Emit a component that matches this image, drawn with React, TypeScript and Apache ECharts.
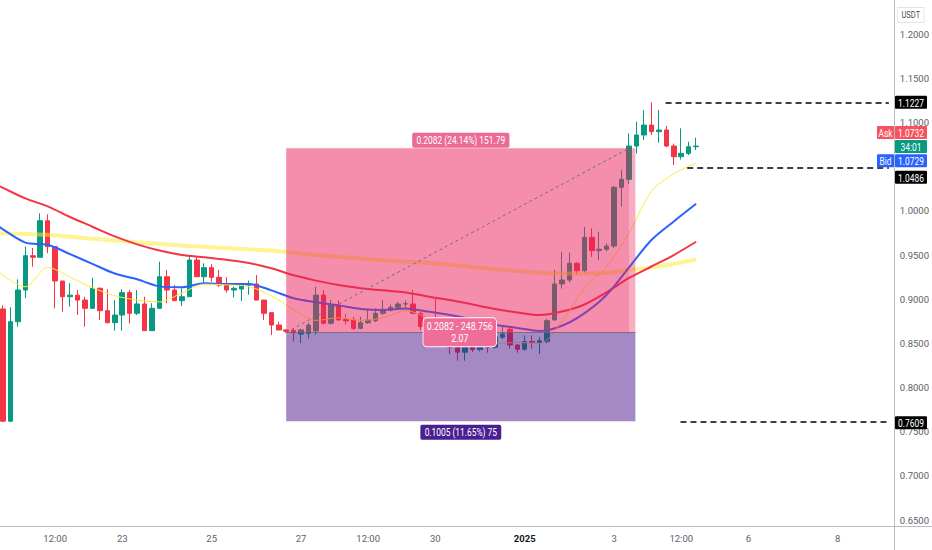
import React, { useEffect, useRef } from 'react';
import * as echarts from 'echarts';

// ---- Candles (4H), index 0 = Dec 20 08:00, index 16 = Dec 23 00:00 ----
const opens = [
  0.889, 0.762, 0.8745, 0.9104, 0.9492, 0.9474, 0.9888, 0.9594, 0.9206, 0.9028,
  0.9046, 0.899, 0.8897, 0.9123, 0.887, 0.8734, 0.8821, 0.9074, 0.884, 0.8946,
  0.8644, 0.8897, 0.9254, 0.9104, 0.8983, 0.9028, 0.9443, 0.9254, 0.9357, 0.9247,
  0.916, 0.9104, 0.9115, 0.916, 0.9172, 0.899, 0.8848, 0.8708, 0.8652, 0.8645,
  0.8606, 0.8614, 0.864, 0.9047, 0.8727, 0.8934, 0.8772, 0.8765, 0.867, 0.8734,
  0.8757, 0.884, 0.8878, 0.8908, 0.8946, 0.8946, 0.884, 0.8689, 0.859, 0.855,
  0.85, 0.8456, 0.84, 0.8456, 0.843, 0.8482, 0.8456, 0.8569, 0.866, 0.8482,
  0.8433, 0.852, 0.851, 0.852, 0.8765, 0.9172, 0.9217, 0.9406, 0.9323, 0.97,
  0.955, 0.9565, 0.9602, 1.0266, 1.0356, 1.0733, 1.0858, 1.097, 1.0895, 1.0914,
  1.0733, 1.0612, 1.065, 1.0725,
];
const closes = [
  0.762, 0.8745, 0.9104, 0.9492, 0.9474, 0.9888, 0.9594, 0.9206, 0.9028, 0.9046,
  0.899, 0.8897, 0.9123, 0.887, 0.8734, 0.8821, 0.9074, 0.884, 0.8946, 0.8644,
  0.8897, 0.9254, 0.9104, 0.8983, 0.9028, 0.9443, 0.9254, 0.9357, 0.9247, 0.916,
  0.9104, 0.9123, 0.916, 0.9165, 0.899, 0.884, 0.8708, 0.8652, 0.8637, 0.862,
  0.8652, 0.8708, 0.9047, 0.8727, 0.8934, 0.8765, 0.8754, 0.867, 0.8734, 0.8765,
  0.884, 0.8886, 0.8908, 0.8946, 0.8948, 0.884, 0.8689, 0.859, 0.855, 0.85,
  0.8456, 0.84, 0.8456, 0.843, 0.847, 0.8456, 0.8576, 0.8606, 0.8482, 0.8433,
  0.852, 0.8512, 0.853, 0.8757, 0.9172, 0.9217, 0.9406, 0.9323, 0.97, 0.955,
  0.9565, 0.9602, 1.0266, 1.0356, 1.0733, 1.0858, 1.097, 1.0895, 1.0914, 1.0733,
  1.0612, 1.065, 1.0725, 1.0732,
];
const lows = [
  0.7609, 0.7609, 0.869, 0.901, 0.9368, 0.9474, 0.952, 0.8897, 0.8859, 0.8915,
  0.8821, 0.8689, 0.8897, 0.8765, 0.8727, 0.8644, 0.8644, 0.8727, 0.882, 0.8644,
  0.8644, 0.8897, 0.8954, 0.8983, 0.8923, 0.9028, 0.9254, 0.918, 0.92, 0.914,
  0.9075, 0.902, 0.898, 0.905, 0.899, 0.8765, 0.8595, 0.8652, 0.862, 0.852,
  0.8505, 0.8557, 0.86, 0.8714, 0.8714, 0.876, 0.8714, 0.865, 0.866, 0.872,
  0.874, 0.882, 0.886, 0.889, 0.89, 0.883, 0.865, 0.856, 0.852, 0.846,
  0.838, 0.8304, 0.8304, 0.84, 0.841, 0.8395, 0.844, 0.855, 0.844, 0.8395,
  0.842, 0.844, 0.838, 0.85, 0.876, 0.912, 0.919, 0.928, 0.93, 0.948,
  0.9443, 0.954, 0.958, 1.0046, 1.03, 1.065, 1.08, 1.0858, 1.077, 1.072,
  1.0518, 1.058, 1.063, 1.0688,
];
const highs = [
  0.893, 0.891, 0.9225, 0.9594, 0.958, 0.9972, 0.996, 0.9594, 0.9206, 0.918,
  0.9104, 0.9028, 0.9243, 0.9134, 0.9112, 0.8991, 0.9112, 0.9104, 0.9104, 0.9028,
  0.8954, 0.9424, 0.933, 0.916, 0.9123, 0.9489, 0.9481, 0.9406, 0.9395, 0.933,
  0.925, 0.9142, 0.918, 0.921, 0.9274, 0.899, 0.8848, 0.8745, 0.866, 0.867,
  0.8665, 0.8734, 0.9142, 0.9104, 0.899, 0.899, 0.883, 0.88, 0.88, 0.8878,
  0.8897, 0.899, 0.894, 0.897, 0.8985, 0.9104, 0.886, 0.872, 0.9, 0.862,
  0.856, 0.849, 0.848, 0.851, 0.852, 0.851, 0.872, 0.8689, 0.87, 0.849,
  0.859, 0.859, 0.857, 0.878, 0.933, 0.9537, 0.9526, 0.942, 0.982, 0.9802,
  0.9764, 0.963, 1.028, 1.0462, 1.0876, 1.1008, 1.114, 1.1227, 1.114, 1.096,
  1.076, 1.0933, 1.0782, 1.0827,
];

// ---- Moving averages, read at candle indexes ----
const maIdx = [-1, 0, 3, 6, 9, 12, 15, 18, 21, 24, 27, 30, 33, 36, 39, 42, 45, 48, 51, 54, 57, 60, 63, 66, 69, 72, 75, 78, 81, 84, 87, 90, 93];
const maRed = [1.03, 1.026, 1.014, 1.005, 0.993, 0.982, 0.971, 0.962, 0.955, 0.95, 0.9475, 0.9446, 0.941, 0.935, 0.927, 0.921, 0.916, 0.9125, 0.91, 0.9077, 0.903, 0.899, 0.894, 0.889, 0.885, 0.882, 0.886, 0.894, 0.908, 0.924, 0.937, 0.95, 0.965];
const maBlue = [0.985, 0.979, 0.964, 0.9615, 0.951, 0.94, 0.929, 0.9225, 0.9145, 0.9135, 0.918, 0.9172, 0.9172, 0.91, 0.901, 0.8965, 0.893, 0.889, 0.8878, 0.8895, 0.886, 0.882, 0.877, 0.871, 0.8675, 0.864, 0.87, 0.884, 0.905, 0.936, 0.967, 0.988, 1.008];
const maFast = [0.936, 0.927, 0.914, 0.936, 0.925, 0.913, 0.904, 0.899, 0.897, 0.907, 0.917, 0.9162, 0.9142, 0.904, 0.888, 0.876, 0.879, 0.876, 0.879, 0.887, 0.879, 0.865, 0.853, 0.85, 0.851, 0.85, 0.875, 0.912, 0.937, 0.975, 1.022, 1.042, 1.054];
const maSlow = [0.9748, 0.9745, 0.9737, 0.9728, 0.9707, 0.9685, 0.9665, 0.9645, 0.9626, 0.9607, 0.9592, 0.9578, 0.9564, 0.955, 0.9525, 0.95, 0.948, 0.946, 0.944, 0.9425, 0.941, 0.939, 0.9365, 0.934, 0.932, 0.93, 0.929, 0.929, 0.93, 0.933, 0.936, 0.94, 0.945];

// ---- Axes ----
const xTickIdx = [7, 16, 28, 40, 49, 58, 70, 82, 91, 100, 112];
const xTickLabels = ['12:00', '23', '25', '27', '12:00', '30', '2025', '3', '12:00', '6', '8'];
const yTickValues = [0.65, 0.7, 0.75, 0.8, 0.85, 0.9, 0.95, 1.0, 1.1, 1.15, 1.2];
const X_MIN = -0.4;
const X_MAX = 119.52;
const Y_MIN = 0.6434;
const Y_MAX = 1.2385;

// ---- Long position tool ----
const posStartIdx = 38;
const posHitIdx = 84;
const posEndIdx = 84.85;
const posEntry = 0.8625;
const posTarget = 1.0707;
const posStop = 0.762;
const posTargetAmount = '151.79';
const posQty = '248.756';
const posStopAmount = '75';

// ---- Horizontal lines ----
const hLinePrices = [1.1227, 1.0486, 0.7609];
const hLineStartIdx = [88.9, 91.8, 90.9];

// ---- Price-scale tags ----
const tagPrices = [1.1227, 1.0732, 1.0732, 1.0729, 1.0486, 0.7609];
const tagTexts = ['1.1227', '1.0732', '34:01', '1.0729', '1.0486', '0.7609'];
const tagPrefixes = ['', 'Ask', '', 'Bid', '', ''];
const tagColors = ['#000000', '#f7525f', '#089981', '#2962ff', '#000000', '#000000'];
const tagShiftY = [0, -13.5, 0.5, 14.5, 9.5, 0.5];

const UP = '#089981';
const DOWN = '#f23645';
const FONT = '"Liberation Sans Narrow", "Arial Narrow", Roboto, sans-serif';
const AXIS_TEXT = '#5d606b';
const SEP = '#b8bbc2';
const NARROW = 0.84;

function buildOption() {
  const candleData = opens.map((o, i) => [i, o, closes[i], lows[i], highs[i]]);
  const toLine = (vals: number[]) => maIdx.map((x, k) => [x, vals[k]]);
  const lineEnd = X_MAX - 5 / 7.48;

  const hLines = hLinePrices.map((p, k) => [
    { coord: [hLineStartIdx[k], p], lineStyle: { color: '#000000', width: 1.5, type: [6, 4] } },
    { coord: [lineEnd, p] },
  ]);

  return {
    animation: false,
    backgroundColor: '#ffffff',
    grid: { left: 0, right: 35, top: 0, bottom: 24 },
    xAxis: {
      type: 'value',
      min: X_MIN,
      max: X_MAX,
      axisLine: { show: false },
      axisTick: { show: false },
      splitLine: { show: false },
      axisLabel: {
        customValues: xTickIdx,
        color: AXIS_TEXT,
        fontSize: 9.5,
        fontFamily: FONT,
        margin: 7,
        formatter: (v: number) => {
          const k = xTickIdx.findIndex((t) => Math.abs(t - v) < 1e-6);
          if (k < 0) return '';
          const s = xTickLabels[k];
          return s === '2025' ? '{b|' + s + '}' : s;
        },
        rich: {
          b: { fontWeight: 'bold', fontSize: 9.5, fontFamily: FONT, color: '#131722' },
        },
      },
    },
    yAxis: {
      type: 'value',
      position: 'right',
      min: Y_MIN,
      max: Y_MAX,
      axisLine: { show: false },
      axisTick: { show: false },
      splitLine: { show: false },
      axisLabel: {
        customValues: yTickValues,
        color: AXIS_TEXT,
        fontSize: 9.5,
        fontFamily: FONT,
        margin: 6,
        formatter: (v: number) => v.toFixed(4),
      },
    },
    series: [
      {
        type: 'candlestick',
        data: candleData,
        barWidth: 5,
        z: 2,
        itemStyle: { color: UP, color0: DOWN, borderColor: UP, borderColor0: DOWN, borderWidth: 1 },
        markArea: {
          z: 5,
          silent: true,
          label: { show: false },
          data: [
            [{ coord: [posStartIdx, posEntry], itemStyle: { color: 'rgba(233,30,90,0.5)' } }, { coord: [posHitIdx, posTarget] }],
            [{ coord: [posHitIdx, posEntry], itemStyle: { color: 'rgba(233,30,90,0.36)' } }, { coord: [posEndIdx, posTarget] }],
            [{ coord: [posStartIdx, posStop], itemStyle: { color: 'rgba(75,20,140,0.5)' } }, { coord: [posEndIdx, posEntry] }],
          ],
        },
        markLine: {
          z: 6,
          silent: true,
          symbol: ['none', 'none'],
          label: { show: false },
          data: [
            [{ coord: [posStartIdx, posEntry], lineStyle: { color: 'rgba(110,100,115,0.8)', width: 1, type: 'solid' } }, { coord: [posEndIdx, posEntry] }],
            [{ coord: [posStartIdx, posEntry], lineStyle: { color: '#707078', width: 1, type: [3, 3] } }, { coord: [posHitIdx, posTarget] }],
            ...hLines,
          ],
        },
      },
      { type: 'line', data: toLine(maSlow), symbol: 'none', smooth: 0.3, z: 3, silent: true, lineStyle: { color: 'rgba(255,235,59,0.55)', width: 4 } },
      { type: 'line', data: toLine(maRed), symbol: 'none', smooth: 0.3, z: 3, silent: true, lineStyle: { color: '#f23645', width: 2 } },
      { type: 'line', data: toLine(maBlue), symbol: 'none', smooth: 0.3, z: 3, silent: true, lineStyle: { color: '#2962ff', width: 2 } },
      { type: 'line', data: toLine(maFast), symbol: 'none', smooth: 0.3, z: 3, silent: true, lineStyle: { color: '#ffeb3b', width: 1 } },
    ],
  };
}

function buildGraphics(chart: any) {
  const px = (x: number, y: number) => chart.convertToPixel({ gridIndex: 0 }, [x, y]) as number[];
  const W = chart.getWidth();
  const H = chart.getHeight();
  const [axisX, axisY] = px(X_MAX, Y_MIN);
  const els: any[] = [];
  const font = (s: number, w = 'normal') => `${w} ${s}px ${FONT}`;

  els.push({ type: 'line', z: 50, silent: true, shape: { x1: 0, y1: Math.round(axisY) + 0.5, x2: W, y2: Math.round(axisY) + 0.5 }, style: { stroke: SEP, lineWidth: 1 } });
  els.push({ type: 'line', z: 50, silent: true, shape: { x1: Math.round(axisX) + 0.5, y1: 0, x2: Math.round(axisX) + 0.5, y2: H }, style: { stroke: SEP, lineWidth: 1 } });

  // unit label
  els.push({
    type: 'text', z: 60, silent: true, x: axisX + 17, y: 15, scaleX: NARROW,
    style: { text: 'USDT', fill: '#4d4f57', font: font(9), align: 'center', verticalAlign: 'middle', backgroundColor: '#ffffff', borderColor: '#e0e3eb', borderWidth: 1, padding: [3, 4, 2, 4] },
  });

  // price tags
  tagPrices.forEach((p, k) => {
    const cy = px(X_MAX, p)[1] + tagShiftY[k];
    const bx = Math.round(axisX) + 1;
    els.push({ type: 'rect', z: 70, silent: true, shape: { x: bx, y: cy - 6.5, width: 32, height: 13, r: 1 }, style: { fill: tagColors[k] } });
    els.push({ type: 'text', z: 71, silent: true, x: bx + 16, y: cy + 0.5, scaleX: NARROW, style: { text: tagTexts[k], fill: '#ffffff', font: font(10), align: 'center', verticalAlign: 'middle' } });
    if (tagPrefixes[k]) {
      els.push({ type: 'rect', z: 70, silent: true, shape: { x: bx - 18, y: cy - 6.5, width: 17, height: 13, r: 1 }, style: { fill: tagColors[k] } });
      els.push({ type: 'text', z: 71, silent: true, x: bx - 9.5, y: cy + 0.5, scaleX: NARROW, style: { text: tagPrefixes[k], fill: '#ffffff', font: font(10), align: 'center', verticalAlign: 'middle' } });
    }
  });

  // position labels
  const diff = posTarget - posEntry;
  const pct = (diff / posEntry) * 100;
  const sdiff = posEntry - posStop;
  const spct = (sdiff / posEntry) * 100;
  const rr = diff / sdiff;
  const midIdx = (posStartIdx + posEndIdx) / 2;
  const [lx, ty] = px(midIdx, posTarget);
  const ey = px(midIdx, posEntry)[1];
  const sy = px(midIdx, posStop)[1];

  els.push({
    type: 'text', z: 80, silent: true, x: lx, y: ty - 8, scaleX: NARROW,
    style: { text: `${diff.toFixed(4)} (${pct.toFixed(2)}%) ${posTargetAmount}`, fill: '#ffffff', font: font(10), align: 'center', verticalAlign: 'middle', backgroundColor: '#ec6a96', padding: [3, 5, 2, 5], borderRadius: 2 },
  });
  els.push({
    type: 'text', z: 80, silent: true, x: lx - 1, y: ey, scaleX: NARROW,
    style: { text: `${diff.toFixed(4)} - ${posQty}\n${rr.toFixed(2)}`, fill: '#ffffff', font: font(10.5), lineHeight: 12, align: 'center', verticalAlign: 'middle', backgroundColor: '#ee6e99', borderColor: '#ffffff', borderWidth: 1, padding: [2, 4, 2, 4], borderRadius: 4 },
  });
  els.push({
    type: 'text', z: 80, silent: true, x: lx, y: sy + 11, scaleX: NARROW,
    style: { text: `${sdiff.toFixed(4)} (${spct.toFixed(2)}%) ${posStopAmount}`, fill: '#ffffff', font: font(10), align: 'center', verticalAlign: 'middle', backgroundColor: '#4a1f92', padding: [3, 5, 2, 5], borderRadius: 2 },
  });

  return els;
}

export default function App() {
  const ref = useRef<HTMLDivElement>(null);
  useEffect(() => {
    const chart = echarts.init(ref.current as HTMLDivElement, null, { renderer: 'svg' });
    chart.setOption(buildOption() as any);
    chart.setOption({ graphic: buildGraphics(chart) } as any);
    return () => chart.dispose();
  }, []);
  return (
    <div
      ref={ref}
      style={{ position: 'fixed', left: 0, top: 0, width: 932, height: 550, background: '#ffffff' }}
    />
  );
}
